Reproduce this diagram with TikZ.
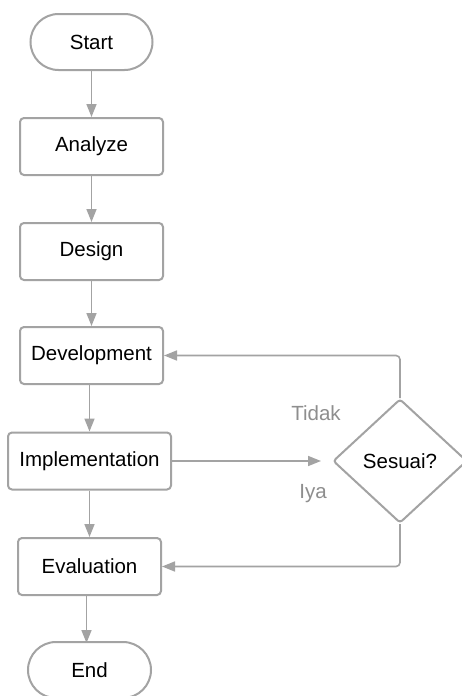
\documentclass[tikz,border=0pt]{standalone}
\usepackage{fontspec}
\setmainfont{Liberation Sans}
\usetikzlibrary{shapes.misc,shapes.geometric,arrows.meta}
\definecolor{edge}{HTML}{A3A3A3}
\definecolor{lbl}{HTML}{8E8E8E}
\begin{document}
\begin{tikzpicture}[x=1pt,y=-1pt,
  every node/.style={font=\fontsize{20.5}{24}\selectfont, text=black},
  box/.style={draw=edge, line width=2pt, rectangle, rounded corners=4pt, minimum width=143pt, minimum height=57pt, inner sep=0pt},
  term/.style={draw=edge, line width=2pt, rounded rectangle, minimum width=122pt, minimum height=56pt, inner sep=0pt},
  decision/.style={draw=edge, line width=2pt, diamond, rounded corners=3pt, minimum width=134pt, minimum height=124pt, inner sep=0pt},
  conn/.style={draw=edge, line width=1.6pt, -{Triangle[length=13pt,width=10pt]}, rounded corners=4pt},
  lab/.style={text=lbl}]
\useasboundingbox (0,0) rectangle (461,696);
\fill[white] (0,0) rectangle (461,696);
\node[term] (start) at (91.5,42) {Start};
\node[box] (analyze) at (91.5,146.5) {Analyze};
\node[box] (design) at (91.5,251.5) {Design};
\node[box] (dev) at (91.5,355.5) {Development};
\node[box, minimum width=163pt] (impl) at (89.5,461) {Implementation};
\node[box] (eval) at (89.5,566.5) {Evaluation};
\node[term, minimum width=123pt] (end) at (89.5,670) {End};
\node[decision] (dec) at (400,461) {Sesuai?};
\node[lab] (tidak) at (316,413) {Tidak};
\node[lab] (iya) at (313,494) {Iya};
\draw[conn] (start) -- (analyze);
\draw[conn] (analyze) -- (design);
\draw[conn] (design) -- (dev);
\draw[conn] (dev.south -| impl.north) -- (impl.north);
\draw[conn] (impl) -- (eval);
\draw[conn] (eval.south -| end.north) ++(-3,0) -- ++(0,47);
\draw[conn, shorten >=11pt] (impl.east) -- (dec.west);
\draw[conn] (dec.north) |- (dev.east);
\draw[conn] (dec.south) |- (eval.east);
\end{tikzpicture}
\end{document}
